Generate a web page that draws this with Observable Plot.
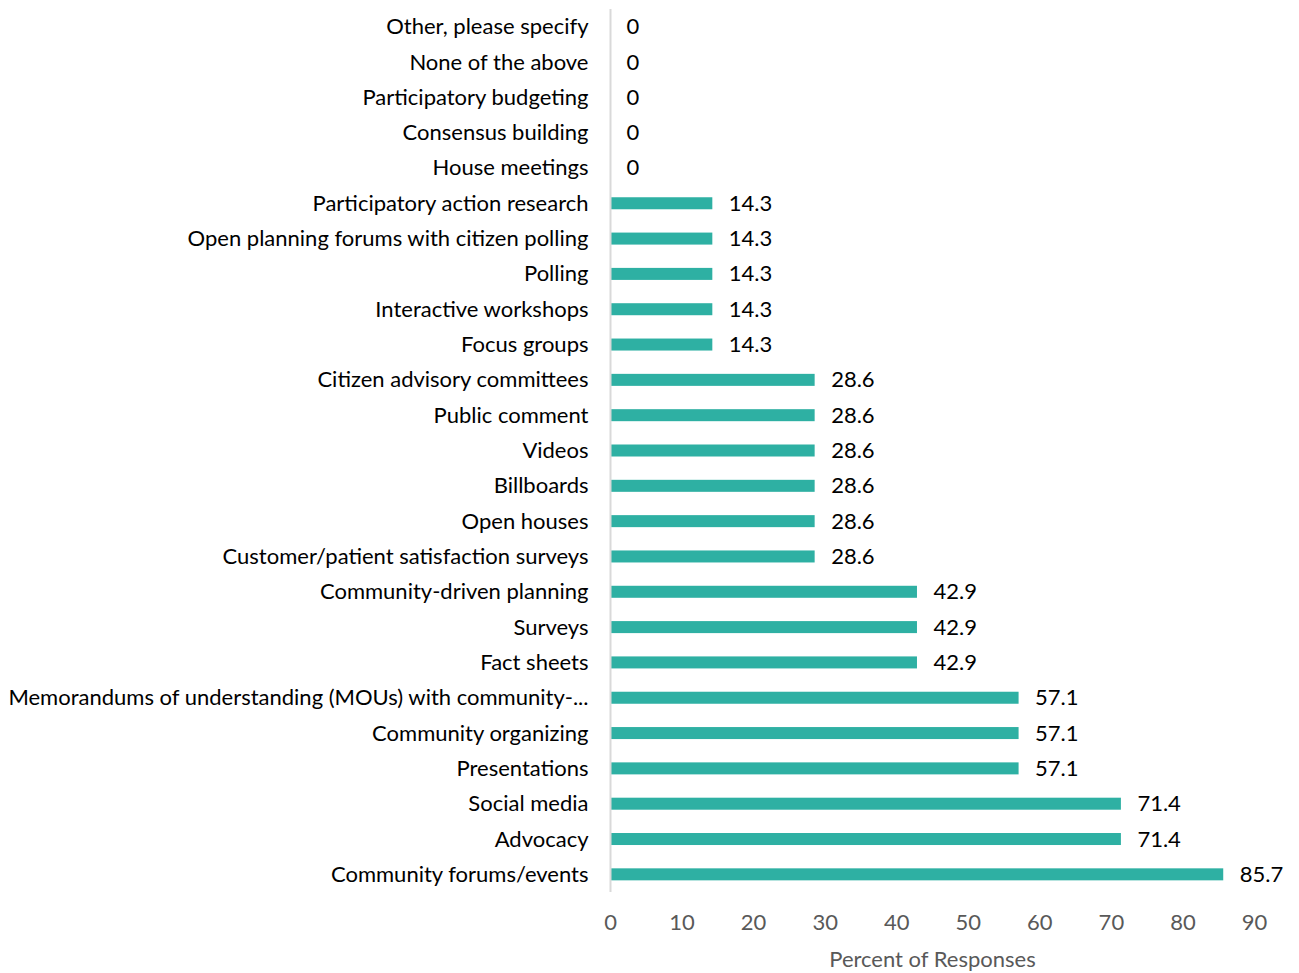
<!DOCTYPE html>
<html>
<head>
<meta charset="utf-8">
<script src="https://cdn.jsdelivr.net/npm/d3@7"></script>
<script src="https://cdn.jsdelivr.net/npm/@observablehq/plot@0.6"></script>
<style>
  html, body { margin: 0; padding: 0; background: #fff; }
  #chart svg { display: block; }
</style>
</head>
<body>
<div id="chart"></div>
<script>
const categories = [
  "Other, please specify",
  "None of the above",
  "Participatory budgeting",
  "Consensus building",
  "House meetings",
  "Participatory action research",
  "Open planning forums with citizen polling",
  "Polling",
  "Interactive workshops",
  "Focus groups",
  "Citizen advisory committees",
  "Public comment",
  "Videos",
  "Billboards",
  "Open houses",
  "Customer/patient satisfaction surveys",
  "Community-driven planning",
  "Surveys",
  "Fact sheets",
  "Memorandums of understanding (MOUs) with community-...",
  "Community organizing",
  "Presentations",
  "Social media",
  "Advocacy",
  "Community forums/events"
];
const values = [0, 0, 0, 0, 0, 14.3, 14.3, 14.3, 14.3, 14.3, 28.6, 28.6, 28.6, 28.6, 28.6, 28.6, 42.9, 42.9, 42.9, 57.1, 57.1, 57.1, 71.4, 71.4, 85.7];
const xTicks = [0, 10, 20, 30, 40, 50, 60, 70, 80, 90];
const xTitle = "Percent of Responses";

const data = categories.map((c, i) => ({category: c, value: values[i]}));
const font = "Lato, 'Open Sans', sans-serif";
const fs = 22;

const chart = Plot.plot({
  width: 1299,
  height: 973,
  marginLeft: 610,
  marginRight: 45,
  marginTop: 9,
  marginBottom: 81,
  style: {fontFamily: font, fontSize: fs + "px", background: "#fff"},
  x: {domain: [0, 90], ticks: xTicks},
  y: {domain: categories, paddingInner: 0.66, paddingOuter: 0.33, round: false},
  marks: [
    Plot.barX(data, {x: "value", y: "category", fill: "#2eb0a3"}),
    Plot.ruleX([0], {stroke: "#d9d9d9", strokeWidth: 2}),
    Plot.text(data, {x: "value", y: "category", text: d => String(d.value), textAnchor: "start", dx: 16, fill: "#000", fontSize: fs}),
    Plot.axisY({tickSize: 0, tickPadding: 22, fontSize: fs, fill: "#000", label: null}),
    Plot.axisX({tickSize: 0, tickPadding: 22, fontSize: fs, fill: "#595959", label: xTitle, labelAnchor: "center", labelArrow: "none", labelOffset: 74})
  ]
});
document.getElementById("chart").appendChild(chart);
</script>
</body>
</html>
